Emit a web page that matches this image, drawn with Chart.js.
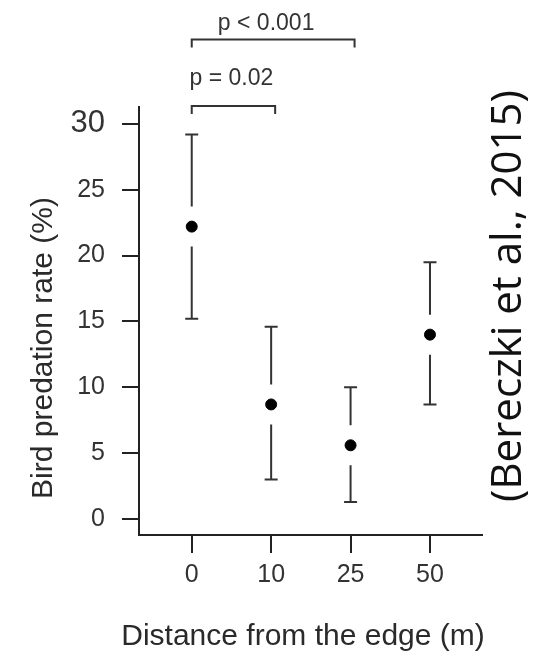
<!DOCTYPE html>
<html>
<head>
<meta charset="utf-8">
<script src="https://cdn.jsdelivr.net/npm/chart.js@4.4.1/dist/chart.umd.min.js"></script>
<style>
  html, body { margin: 0; padding: 0; background: #fff; }
  #wrap { width: 544px; height: 657px; position: relative; }
</style>
</head>
<body>
<div id="wrap"><canvas id="predationChart"></canvas></div>
<script>
// distance categories (m) and predation rate (%)
const distances = ['0', '10', '25', '50'];
const meanRate = [22.2, 8.7, 5.6, 14.0];
const upperRate = [29.2, 14.6, 10.0, 19.5];
const lowerRate = [15.2, 3.0, 1.3, 8.7];
const yTicks = [0, 5, 10, 15, 20, 25, 30];

// significance brackets: from category, to category, label
const bracketFrom = [0, 0];
const bracketTo = [2, 1];
const bracketLabels = ['p < 0.001', 'p = 0.02'];

const ink = '#222';
const labelFont = 'Liberation Sans';

Chart.defaults.font.family = labelFont;
Chart.defaults.color = '#333';

// bracket levels (y value) and text offsets, styling only
const bracketLevel = [36.4, 31.35];
const bracketTextLift = [10, 21];
const bracketTextShift = [-7, -2];

const extras = {
    id: 'extras',
    afterDatasetsDraw(chart) {
        const ctx = chart.ctx;
        const xs = chart.scales.x;
        const ys = chart.scales.y;
        ctx.save();
        // error bars with a gap round the mean
        ctx.strokeStyle = '#333';
        ctx.lineWidth = 2;
        meanRate.forEach((m, i) => {
            const x = xs.getPixelForValue(i);
            const yM = ys.getPixelForValue(m);
            const yU = ys.getPixelForValue(upperRate[i]);
            const yL = ys.getPixelForValue(lowerRate[i]);
            const gap = 20;
            ctx.beginPath();
            ctx.moveTo(x, yU);
            ctx.lineTo(x, yM - gap);
            ctx.moveTo(x, yM + gap);
            ctx.lineTo(x, yL);
            ctx.moveTo(x - 6.5, yU);
            ctx.lineTo(x + 6.5, yU);
            ctx.moveTo(x - 6.5, yL);
            ctx.lineTo(x + 6.5, yL);
            ctx.stroke();
        });
        ctx.restore();
    },
    afterDraw(chart) {
        const ctx = chart.ctx;
        const xs = chart.scales.x;
        const ys = chart.scales.y;
        ctx.save();

        // brackets
        ctx.strokeStyle = '#333';
        ctx.lineWidth = 2;
        ctx.fillStyle = '#333';
        ctx.font = '23px ' + labelFont;
        ctx.textAlign = 'center';
        ctx.textBaseline = 'alphabetic';
        bracketLabels.forEach((lab, i) => {
            const x1 = xs.getPixelForValue(bracketFrom[i]);
            const x2 = xs.getPixelForValue(bracketTo[i]) + 4;
            const y = ys.getPixelForValue(bracketLevel[i]);
            ctx.beginPath();
            ctx.moveTo(x1, y + 8);
            ctx.lineTo(x1, y);
            ctx.lineTo(x2, y);
            ctx.lineTo(x2, y + 8);
            ctx.stroke();
            ctx.fillText(lab, (x1 + x2) / 2 + bracketTextShift[i], y - bracketTextLift[i]);
        });

        // axis titles
        ctx.fillStyle = '#2a2a2a';
        ctx.font = '30px ' + labelFont;
        ctx.fillText('Distance from the edge (m)', 303, 645);

        ctx.translate(52, 348);
        ctx.rotate(-Math.PI / 2);
        ctx.fillText('Bird predation rate (%)', 0, 0);
        ctx.restore();

        // citation
        ctx.save();
        ctx.fillStyle = '#111';
        ctx.font = '42px "Open Sans"';
        ctx.textAlign = 'center';
        ctx.translate(521, 296);
        ctx.rotate(-Math.PI / 2);
        ctx.fillText('(Bereczki et al., 2015)', 0, 0);
        ctx.restore();
    }
};

const chartCtx = document.getElementById('predationChart').getContext('2d');

new Chart(chartCtx, {
    type: 'scatter',
    data: {
        datasets: [
            {
                label: 'Bird predation rate',
                data: meanRate.map((m, i) => ({ x: i, y: m })),
                backgroundColor: '#000',
                borderColor: '#000',
                pointRadius: 5.5,
                pointHoverRadius: 5.5
            }
        ]
    },
    options: {
        responsive: true,
        maintainAspectRatio: false,
        animation: false,
        events: [],
        layout: {
            padding: { top: 107, right: 62, left: 0, bottom: 0 }
        },
        plugins: {
            legend: { display: false },
            tooltip: { enabled: false }
        },
        scales: {
            x: {
                type: 'linear',
                min: -0.664,
                max: 3.655,
                afterBuildTicks: scale => {
                    scale.ticks = distances.map((d, i) => ({ value: i }));
                },
                afterFit: scale => { scale.height = 122; },
                grid: {
                    display: true,
                    drawOnChartArea: false,
                    drawTicks: true,
                    tickLength: 18,
                    color: ink,
                    lineWidth: 2
                },
                border: { display: true, color: ink, width: 2 },
                ticks: {
                    padding: 7,
                    font: { size: 25 },
                    color: '#333',
                    maxRotation: 0,
                    callback: v => distances[v]
                }
            },
            y: {
                type: 'linear',
                min: -1.21,
                max: 31.28,
                afterBuildTicks: scale => {
                    scale.ticks = yTicks.map(v => ({ value: v }));
                },
                afterFit: scale => { scale.width = 139; },
                grid: {
                    display: true,
                    drawOnChartArea: false,
                    drawTicks: true,
                    tickLength: 17,
                    color: ink,
                    lineWidth: 2
                },
                border: { display: true, color: ink, width: 2 },
                ticks: {
                    padding: 17,
                    color: '#333',
                    font: c => ({ size: c.tick && c.tick.value === 30 ? 31 : 25 }),
                    callback: v => String(v)
                }
            }
        }
    },
    plugins: [extras]
});
</script>
</body>
</html>
